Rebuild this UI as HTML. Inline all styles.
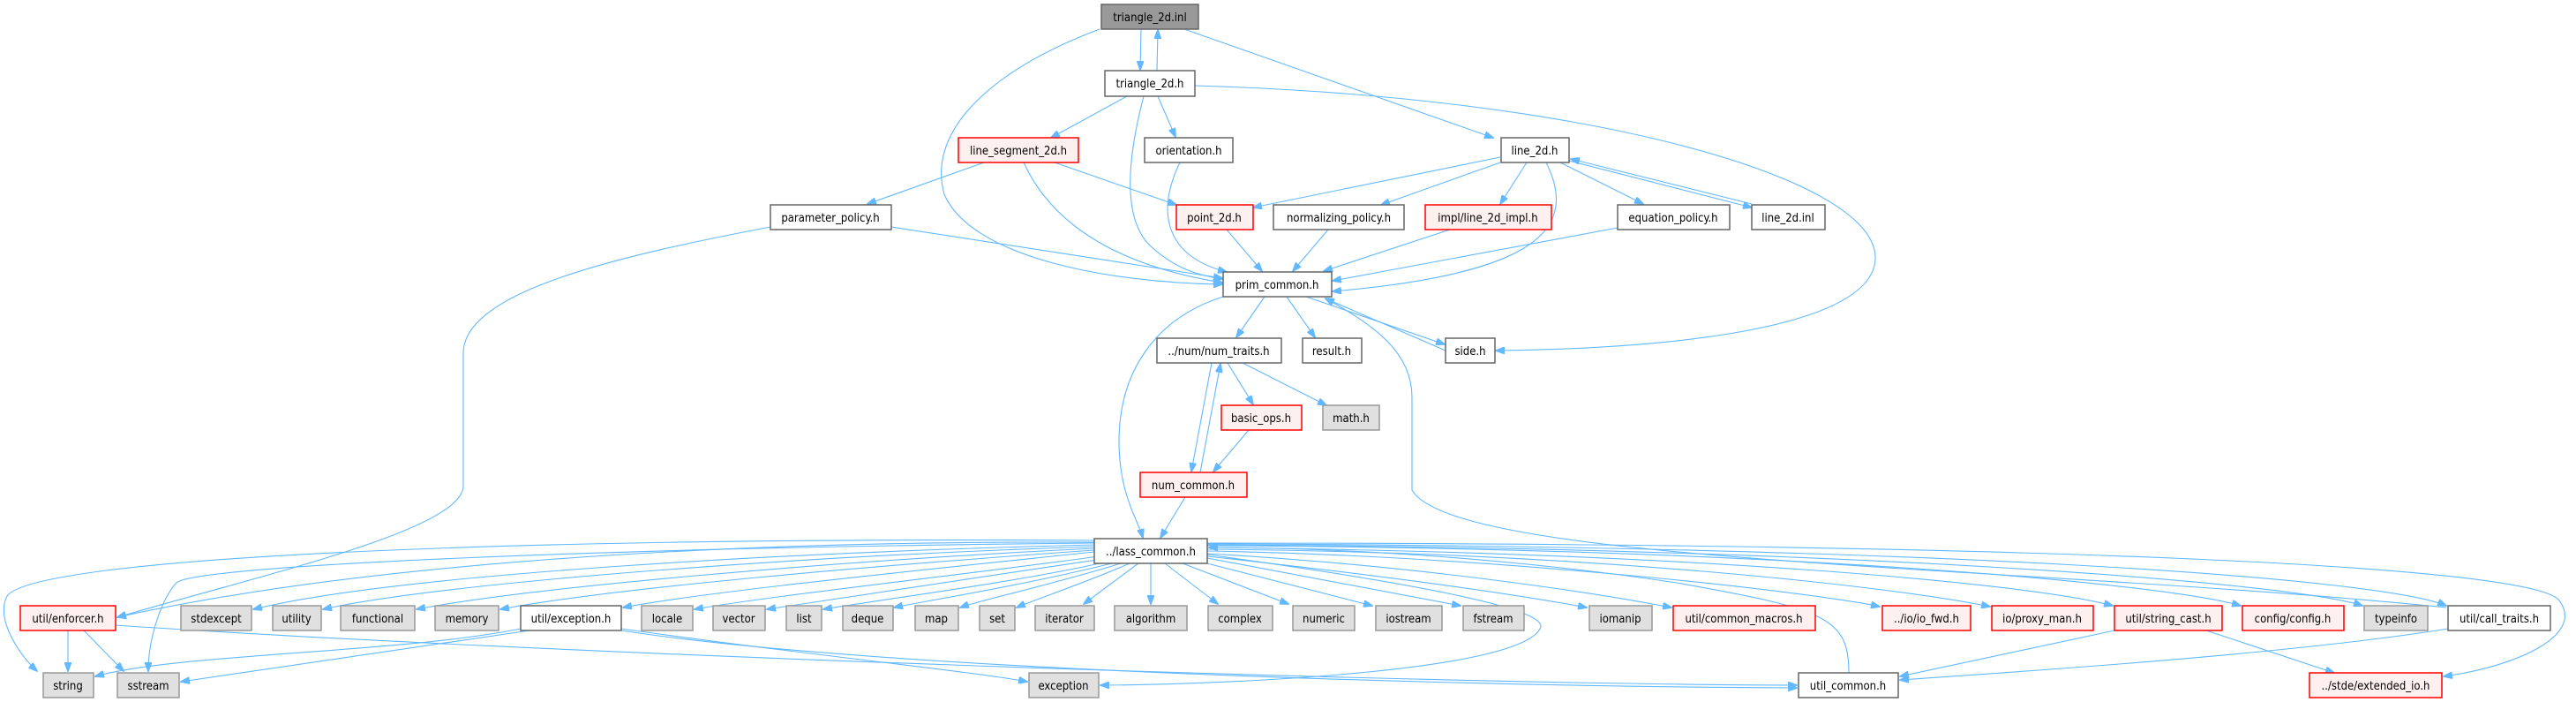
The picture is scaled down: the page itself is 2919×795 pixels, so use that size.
<!DOCTYPE html>
<html><head><meta charset="utf-8"><style>
html,body{margin:0;padding:0;background:#fff;}
svg{display:block;}
text{font-family:"DejaVu Sans Condensed","Liberation Sans Narrow","Liberation Sans",sans-serif;font-size:13px;text-anchor:middle;}
.e{fill:none;stroke:#63b8ff;stroke-width:1.1;marker-end:url(#a);}
.w{fill:#fff;stroke:#666;stroke-width:1.5;}
.r{fill:#fff0f0;stroke:#f00;stroke-width:1.5;}
.g{fill:#e0e0e0;stroke:#999;stroke-width:1.5;}
.k{fill:#999;stroke:#666;stroke-width:1.5;}
</style></head><body>
<svg width="2919" height="795" viewBox="0 0 2919 795" xmlns="http://www.w3.org/2000/svg">
<defs><marker id="a" markerWidth="11" markerHeight="8" refX="10" refY="4" orient="auto" markerUnits="userSpaceOnUse"><path d="M0,0 L11,4 L0,8 z" fill="#63b8ff" stroke="#63b8ff"/></marker></defs>

<path class="e" d="M1293,33 L1292,79"/>
<path class="e" d="M1311,80 L1312,34"/>
<path class="e" d="M1246,33 C1120,80 1050,150 1070,220 C1100,290 1250,320 1385,322"/>
<path class="e" d="M1342,33 L1692,156"/>
<path class="e" d="M1354,97 C1800,110 2120,200 2125,290 C2128,370 1900,395 1695,397"/>
<path class="e" d="M1277,109 L1191,156"/>
<path class="e" d="M1312,109 L1332,155"/>
<path class="e" d="M1296,109 C1280,170 1270,240 1300,275 C1330,305 1360,312 1385,316"/>
<path class="e" d="M1115,184 L983,231"/>
<path class="e" d="M1160,184 C1190,250 1260,300 1385,320"/>
<path class="e" d="M1195,184 L1333,232"/>
<path class="e" d="M1337,184 C1310,240 1320,290 1390,308"/>
<path class="e" d="M1700,178 L1420,235"/>
<path class="e" d="M1700,184 L1565,232"/>
<path class="e" d="M1730,184 L1700,231"/>
<path class="e" d="M1752,184 C1790,260 1740,310 1510,330"/>
<path class="e" d="M1768,184 L1862,231"/>
<path class="e" d="M1778,182 L1985,235"/>
<path class="e" d="M1985,231 L1780,180"/>
<path class="e" d="M1390,260 L1430,307"/>
<path class="e" d="M1505,260 L1465,307"/>
<path class="e" d="M1643,260 L1500,307"/>
<path class="e" d="M1833,258 L1510,318"/>
<path class="e" d="M1010,257 L1385,315"/>
<path class="e" d="M873,257 C700,290 525,330 525,400 L525,550 C525,600 300,650 133,699"/>
<path class="e" d="M1433,336 L1401,382"/>
<path class="e" d="M1458,336 L1490,382"/>
<path class="e" d="M1480,336 L1637,390"/>
<path class="e" d="M1638,397 L1502,338"/>
<path class="e" d="M1386,336 C1310,360 1268,420 1268,500 C1268,560 1290,590 1295,609"/>
<path class="e" d="M2772,688 C2300,640 1650,640 1600,555 L1600,450 C1600,400 1560,370 1502,338"/>
<path class="e" d="M1391,411 L1420,458"/>
<path class="e" d="M1408,411 L1503,459"/>
<path class="e" d="M1373,411 L1350,534"/>
<path class="e" d="M1360,535 L1383,412"/>
<path class="e" d="M1415,487 L1375,534"/>
<path class="e" d="M1343,563 L1315,609"/>
<path class="e" d="M1240,614 C800,612 400,640 133,699"/>
<path class="e" d="M1240,612 C600,608 40,630 8,675 C-5,700 20,740 42,760"/>
<path class="e" d="M1240,615 C700,620 220,640 200,660 C185,675 168,720 168,760"/>
<path class="e" d="M1240,617 C900,625 450,650 287,690"/>
<path class="e" d="M1240,619 C900,630 500,660 366,690"/>
<path class="e" d="M1240,621 C950,635 600,665 472,690"/>
<path class="e" d="M1240,623 C1000,640 700,665 567,690"/>
<path class="e" d="M1240,625 C1050,645 800,670 706,688"/>
<path class="e" d="M1245,630 C1100,650 870,675 787,690"/>
<path class="e" d="M1250,633 C1100,655 930,680 869,690"/>
<path class="e" d="M1255,636 C1150,660 990,680 933,690"/>
<path class="e" d="M1260,638 C1150,665 1040,682 1013,688"/>
<path class="e" d="M1270,638 C1200,660 1110,680 1088,688"/>
<path class="e" d="M1280,638 C1230,660 1170,680 1152,688"/>
<path class="e" d="M1290,638 L1228,684"/>
<path class="e" d="M1304,638 L1304,684"/>
<path class="e" d="M1320,638 L1380,684"/>
<path class="e" d="M1340,638 L1460,684"/>
<path class="e" d="M1360,636 L1555,686"/>
<path class="e" d="M1368,632 L1655,686"/>
<path class="e" d="M1368,630 C1550,650 1700,670 1798,688"/>
<path class="e" d="M1368,627 C1600,640 1800,670 1894,688"/>
<path class="e" d="M1368,624 C1700,630 2050,670 2130,687"/>
<path class="e" d="M1368,622 C1800,625 2150,665 2255,687"/>
<path class="e" d="M1368,620 C1900,625 2300,660 2394,686"/>
<path class="e" d="M1368,618 C2000,620 2450,660 2539,686"/>
<path class="e" d="M1368,617 C2100,620 2600,660 2677,686"/>
<path class="e" d="M1368,616 C2200,618 2700,655 2772,686"/>
<path class="e" d="M1368,615 C2300,615 2870,640 2900,680 C2930,720 2850,755 2769,766"/>
<path class="e" d="M1368,628 C1600,660 1760,690 1745,712 C1720,760 1400,775 1247,776"/>
<path class="e" d="M2095,762 C2095,700 2070,690 1900,660 C1700,630 1500,620 1370,620"/>
<path class="e" d="M77,714 L77,760"/>
<path class="e" d="M95,714 L140,760"/>
<path class="e" d="M131,708 C600,740 1600,775 2036,776"/>
<path class="e" d="M590,712 C450,740 200,740 108,766"/>
<path class="e" d="M600,714 L205,772"/>
<path class="e" d="M704,712 C900,740 1100,760 1164,772"/>
<path class="e" d="M704,714 C1000,760 1700,778 2036,779"/>
<path class="e" d="M2396,714 L2153,766"/>
<path class="e" d="M2500,714 L2645,762"/>
<path class="e" d="M2774,712 C2600,740 2300,760 2153,770"/>

<rect class="k" x="1248" y="5" width="110" height="28"/><text x="1303" y="24">triangle_2d.inl</text>
<rect class="w" x="1252" y="80" width="102" height="29"/><text x="1303" y="99">triangle_2d.h</text>
<rect class="r" x="1086" y="156" width="136" height="28"/><text x="1154" y="175">line_segment_2d.h</text>
<rect class="w" x="1297" y="156" width="100" height="28"/><text x="1347" y="175">orientation.h</text>
<rect class="w" x="1701" y="156" width="77" height="28"/><text x="1739" y="175">line_2d.h</text>
<rect class="w" x="873" y="232" width="137" height="28"/><text x="941" y="251">parameter_policy.h</text>
<rect class="r" x="1333" y="232" width="87" height="28"/><text x="1376" y="251">point_2d.h</text>
<rect class="w" x="1443" y="232" width="148" height="28"/><text x="1517" y="251">normalizing_policy.h</text>
<rect class="r" x="1615" y="232" width="143" height="28"/><text x="1686" y="251">impl/line_2d_impl.h</text>
<rect class="w" x="1833" y="232" width="127" height="28"/><text x="1896" y="251">equation_policy.h</text>
<rect class="w" x="1985" y="232" width="83" height="28"/><text x="2026" y="251">line_2d.inl</text>
<rect class="w" x="1386" y="308" width="123" height="28"/><text x="1447" y="327">prim_common.h</text>
<rect class="w" x="1311" y="383" width="141" height="28"/><text x="1381" y="402">../num/num_traits.h</text>
<rect class="w" x="1476" y="383" width="67" height="28"/><text x="1509" y="402">result.h</text>
<rect class="w" x="1638" y="383" width="56" height="28"/><text x="1666" y="402">side.h</text>
<rect class="r" x="1384" y="459" width="91" height="28"/><text x="1429" y="478">basic_ops.h</text>
<rect class="g" x="1499" y="459" width="64" height="28"/><text x="1531" y="478">math.h</text>
<rect class="r" x="1292" y="535" width="121" height="28"/><text x="1352" y="554">num_common.h</text>
<rect class="w" x="1240" y="610" width="128" height="28"/><text x="1304" y="629">../lass_common.h</text>

<rect class="r" x="23" y="686" width="108" height="28"/><text x="77" y="705">util/enforcer.h</text>
<rect class="g" x="205" y="686" width="80" height="28"/><text x="245" y="705">stdexcept</text>
<rect class="g" x="309" y="686" width="55" height="28"/><text x="336" y="705">utility</text>
<rect class="g" x="386" y="686" width="84" height="28"/><text x="428" y="705">functional</text>
<rect class="g" x="493" y="686" width="72" height="28"/><text x="529" y="705">memory</text>
<rect class="w" x="590" y="686" width="114" height="28"/><text x="647" y="705">util/exception.h</text>
<rect class="g" x="727" y="686" width="58" height="28"/><text x="756" y="705">locale</text>
<rect class="g" x="808" y="686" width="59" height="28"/><text x="837" y="705">vector</text>
<rect class="g" x="891" y="686" width="40" height="28"/><text x="911" y="705">list</text>
<rect class="g" x="955" y="686" width="57" height="28"/><text x="983" y="705">deque</text>
<rect class="g" x="1037" y="686" width="49" height="28"/><text x="1061" y="705">map</text>
<rect class="g" x="1110" y="686" width="40" height="28"/><text x="1130" y="705">set</text>
<rect class="g" x="1173" y="686" width="67" height="28"/><text x="1206" y="705">iterator</text>
<rect class="g" x="1263" y="686" width="82" height="28"/><text x="1304" y="705">algorithm</text>
<rect class="g" x="1369" y="686" width="73" height="28"/><text x="1405" y="705">complex</text>
<rect class="g" x="1465" y="686" width="70" height="28"/><text x="1500" y="705">numeric</text>
<rect class="g" x="1559" y="686" width="75" height="28"/><text x="1596" y="705">iostream</text>
<rect class="g" x="1658" y="686" width="69" height="28"/><text x="1692" y="705">fstream</text>
<rect class="g" x="1801" y="686" width="71" height="28"/><text x="1836" y="705">iomanip</text>
<rect class="r" x="1896" y="686" width="161" height="28"/><text x="1976" y="705">util/common_macros.h</text>
<rect class="r" x="2133" y="686" width="100" height="28"/><text x="2183" y="705">../io/io_fwd.h</text>
<rect class="r" x="2257" y="686" width="115" height="28"/><text x="2314" y="705">io/proxy_man.h</text>
<rect class="r" x="2396" y="686" width="122" height="28"/><text x="2457" y="705">util/string_cast.h</text>
<rect class="r" x="2541" y="686" width="115" height="28"/><text x="2598" y="705">config/config.h</text>
<rect class="g" x="2679" y="686" width="72" height="28"/><text x="2715" y="705">typeinfo</text>
<rect class="w" x="2774" y="686" width="116" height="28"/><text x="2832" y="705">util/call_traits.h</text>

<rect class="g" x="49" y="762" width="57" height="28"/><text x="77" y="781">string</text>
<rect class="g" x="133" y="762" width="70" height="28"/><text x="168" y="781">sstream</text>
<rect class="g" x="1166" y="762" width="79" height="28"/><text x="1205" y="781">exception</text>
<rect class="w" x="2038" y="762" width="113" height="28"/><text x="2094" y="781">util_common.h</text>
<rect class="r" x="2617" y="762" width="150" height="28"/><text x="2692" y="781">../stde/extended_io.h</text>
</svg>
</body></html>
